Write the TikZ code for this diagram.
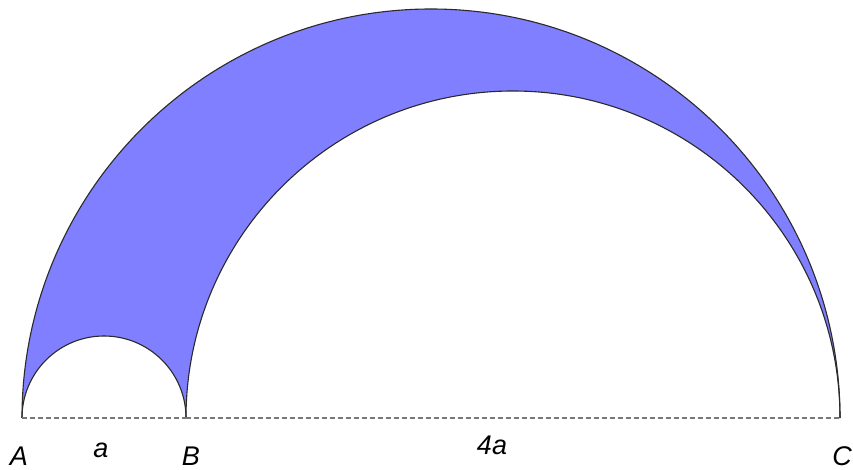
\documentclass[tikz,border=0pt]{standalone}
\usepackage{fontspec}
\setmainfont{Liberation Sans}
\definecolor{arbfill}{HTML}{7F7FFF}
\definecolor{arcline}{HTML}{2A2A2A}
\definecolor{dashgray}{HTML}{777777}
\begin{document}
\begin{tikzpicture}[x=1pt,y=-1pt,
  arcstroke/.style={draw=arcline,line width=1.1pt},
  baseline dash/.style={draw=dashgray,line width=1.2pt,dash pattern=on 5pt off 3pt},
  ptlabel/.style={font=\fontsize{27}{27}\selectfont\itshape,inner sep=0pt}]
\useasboundingbox (0,0) rectangle (853,470);
\coordinate (A) at (22,418);
\coordinate (B) at (186,418);
\coordinate (C) at (840,418);
% shaded region
\fill[arbfill] (A) arc[start angle=180,end angle=360,radius=409] -- (C)
  arc[start angle=0,end angle=-180,radius=327] -- (B)
  arc[start angle=0,end angle=-180,radius=82] -- cycle;
% arcs
\draw[arcstroke] (A) arc[start angle=180,end angle=360,radius=409];
\draw[arcstroke] (B) arc[start angle=180,end angle=360,radius=327];
\draw[arcstroke] (A) arc[start angle=180,end angle=360,radius=82];
% baseline
\draw[baseline dash] (A) -- (B);
\draw[baseline dash] (B) -- (C);
% labels
\node[ptlabel] (lA) at (19,456.5) {A};
\node[ptlabel] (la) at (101,450) {a};
\node[ptlabel] (lB) at (191,456.5) {B};
\node[ptlabel] (l4a) at (492,445) {4a};
\node[ptlabel] (lC) at (842,456.5) {C};
\end{tikzpicture}
\end{document}
